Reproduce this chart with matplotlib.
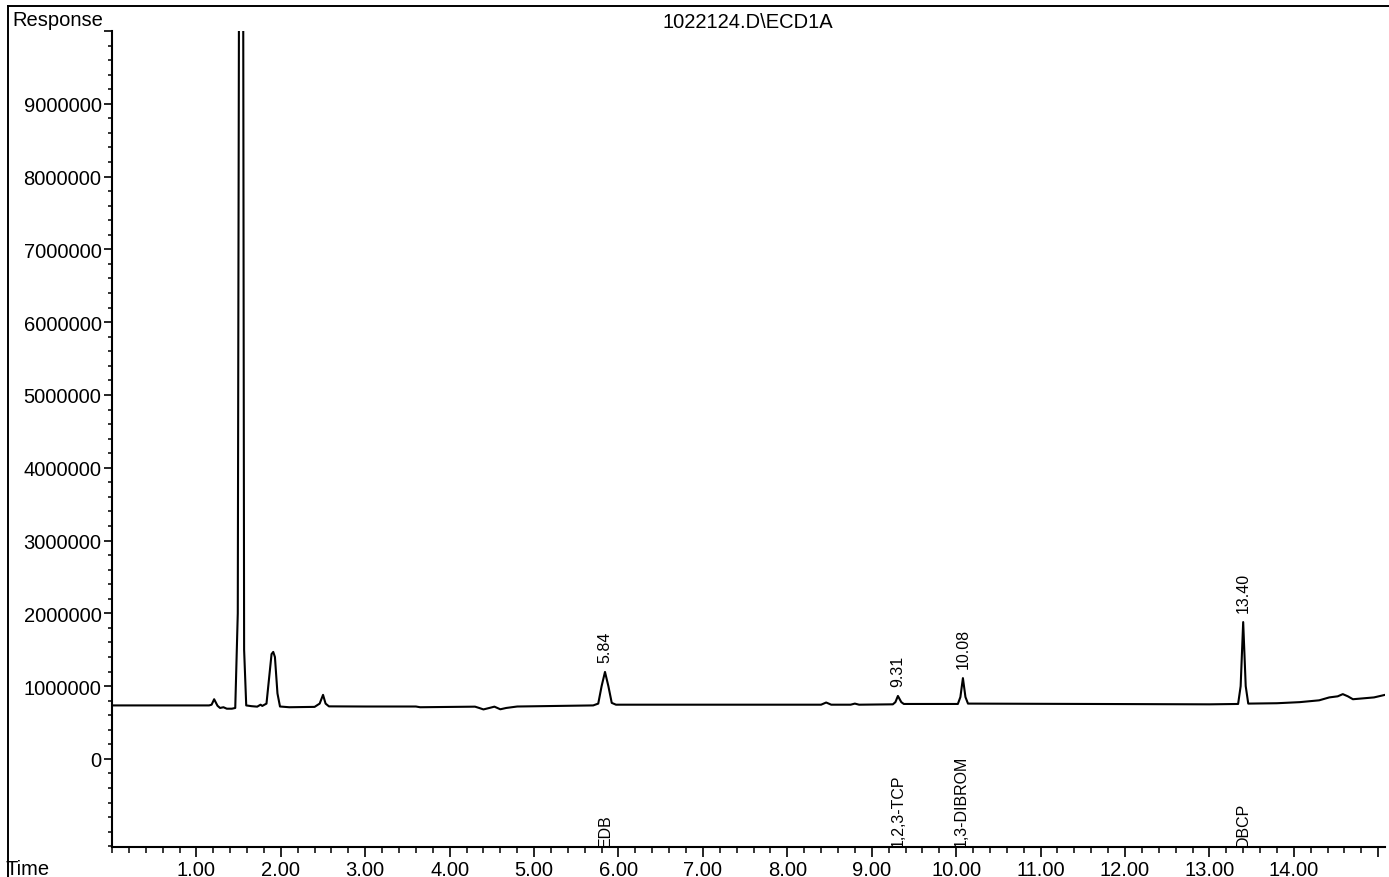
import matplotlib
matplotlib.use("Agg")
import matplotlib.pyplot as plt
from matplotlib.ticker import MultipleLocator, FixedLocator, FixedFormatter
from matplotlib.lines import Line2D

# ---- data ----
title = "1022124.D\\ECD1A"
times = [0.00, 1.15, 1.18, 1.21, 1.25, 1.28, 1.32, 1.36, 1.42, 1.46,
         1.49, 1.51, 1.55, 1.565, 1.59, 1.65, 1.72, 1.76, 1.78, 1.83,
         1.86, 1.89, 1.91, 1.93, 1.96, 1.99, 2.10, 2.40, 2.46, 2.50,
         2.53, 2.57, 3.00, 3.60, 3.65, 4.30, 4.35, 4.40, 4.47, 4.53,
         4.60, 4.67, 4.80, 5.70, 5.76, 5.80, 5.84, 5.88, 5.92, 5.97,
         7.00, 8.40, 8.46, 8.52, 8.75, 8.80, 8.85, 9.25, 9.28, 9.31,
         9.35, 9.38, 10.02, 10.05, 10.08, 10.11, 10.14, 13.00, 13.34, 13.37,
         13.40, 13.43, 13.46, 13.80, 14.07, 14.30, 14.42, 14.52, 14.58, 14.64,
         14.70, 14.85, 14.95, 15.08]
response = [735000, 735000, 745000, 820000, 730000, 700000, 710000, 690000, 690000, 700000,
            2000000, 14000000, 14000000, 1500000, 735000, 725000, 718000, 745000, 728000, 760000,
            1100000, 1440000, 1470000, 1400000, 900000, 720000, 710000, 715000, 760000, 880000,
            760000, 722000, 720000, 720000, 710000, 718000, 700000, 680000, 700000, 718000,
            682000, 700000, 720000, 735000, 760000, 1000000, 1195000, 1000000, 770000, 745000,
            745000, 745000, 775000, 745000, 745000, 760000, 745000, 750000, 780000, 865000,
            780000, 755000, 755000, 850000, 1110000, 850000, 760000, 750000, 755000, 1000000,
            1880000, 1000000, 760000, 765000, 780000, 805000, 845000, 860000, 890000, 860000,
            820000, 835000, 845000, 880000]

peak_times = [5.84, 9.31, 10.08, 13.40]
peak_heights = [1195000, 865000, 1110000, 1880000]
peak_labels = ["5.84", "9.31", "10.08", "13.40"]

compound_times = [5.84, 9.31, 10.06, 13.40]
compound_names = ["EDB", "1,2,3-TCP", "1,3-DIBROM", "DBCP"]

x_major = [1, 2, 3, 4, 5, 6, 7, 8, 9, 10, 11, 12, 13, 14, 15]
x_major_labels = ["1.00", "2.00", "3.00", "4.00", "5.00", "6.00", "7.00", "8.00",
                  "9.00", "10.00", "11.00", "12.00", "13.00", "14.00", ""]
y_major = [0, 1000000, 2000000, 3000000, 4000000, 5000000, 6000000, 7000000,
           8000000, 9000000, 10000000]
y_major_labels = ["0", "1000000", "2000000", "3000000", "4000000", "5000000",
                  "6000000", "7000000", "8000000", "9000000", ""]

# ---- figure ----
plt.rcParams['font.family'] = ['Liberation Sans', 'DejaVu Sans']
W, H = 1389, 878
fig = plt.figure(figsize=(W / 100, H / 100), dpi=100)
ax = fig.add_axes([112 / W, 1 - 848 / H, (1385 - 112) / W, (848 - 32) / H])

ax.plot(times, response, color='black', lw=1.5, solid_joinstyle='round')
ax.set_xlim(0, 15.08)
ax.set_ylim(-1210000, 10000000)

for s in ['top', 'right']:
    ax.spines[s].set_visible(False)
for s in ['left', 'bottom']:
    ax.spines[s].set_linewidth(1.5)

ax.xaxis.set_major_locator(FixedLocator(x_major))
ax.xaxis.set_major_formatter(FixedFormatter(x_major_labels))
ax.xaxis.set_minor_locator(MultipleLocator(0.2))
ax.yaxis.set_major_locator(FixedLocator(y_major))
ax.yaxis.set_major_formatter(FixedFormatter(y_major_labels))
ax.yaxis.set_minor_locator(MultipleLocator(200000))

ax.tick_params(axis='x', which='major', length=7.5, width=1.2, labelsize=14.5, pad=2)
ax.tick_params(axis='x', which='minor', length=4, width=1.1)
ax.tick_params(axis='y', which='major', length=6, width=1.2, labelsize=14.5, pad=1.5)
ax.tick_params(axis='y', which='minor', length=3, width=1.1)

for t, h, lab in zip(peak_times, peak_heights, peak_labels):
    ax.annotate(lab, xy=(t, h), xytext=(0, 7), textcoords='offset points',
                rotation=90, ha='center', va='bottom', fontsize=11.5)

for t, name in zip(compound_times, compound_names):
    ax.annotate(name, xy=(t, -1210000), xytext=(0, 1), textcoords='offset points',
                rotation=90, ha='center', va='bottom', fontsize=11.5)

# page frame, header texts
fig.add_artist(Line2D([8 / W, 1.0], [1 - 7 / H, 1 - 7 / H], transform=fig.transFigure,
                      color='black', lw=1.4))
fig.add_artist(Line2D([8 / W, 8 / W], [0, 1 - 7 / H], transform=fig.transFigure,
                      color='black', lw=1.4))
fig.text(12 / W, 1 - 21 / H, "Response", fontsize=14.5, ha='left', va='center')
fig.text(6 / W, 1 - 870 / H, "Time", fontsize=14.5, ha='left', va='center')
fig.text(748 / W, 1 - 22 / H, title, fontsize=14.5, ha='center', va='center')

fig.savefig("out.png", dpi=100)
